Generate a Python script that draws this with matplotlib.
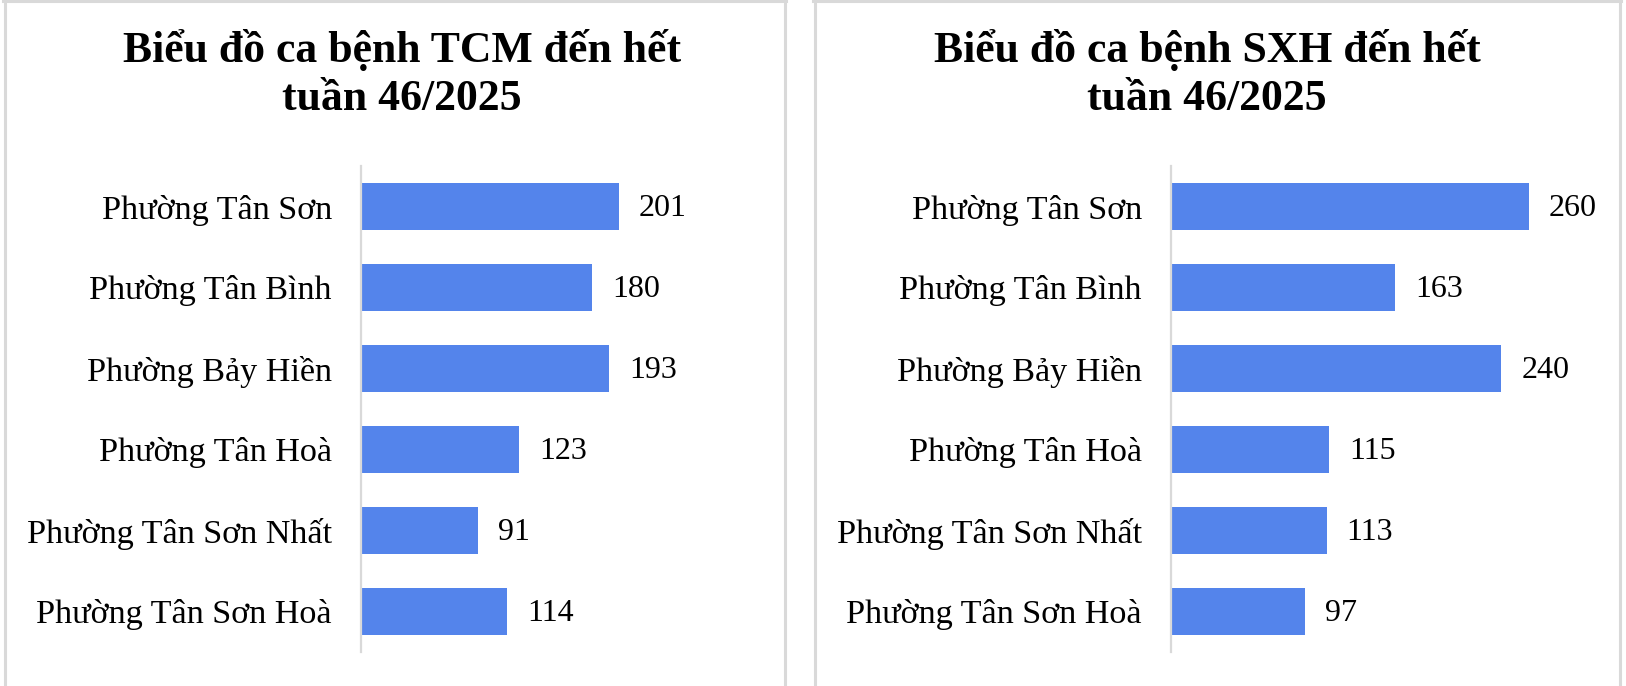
import matplotlib.pyplot as plt
from matplotlib.lines import Line2D

wards = ['Phường Tân Sơn', 'Phường Tân Bình', 'Phường Bảy Hiền',
         'Phường Tân Hoà', 'Phường Tân Sơn Nhất', 'Phường Tân Sơn Hoà']
tcm_cases = [201, 180, 193, 123, 91, 114]
sxh_cases = [260, 163, 240, 115, 113, 97]
titles = ['Biểu đồ ca bệnh TCM đến hết\ntuần 46/2025',
          'Biểu đồ ca bệnh SXH đến hết\ntuần 46/2025']

W, H = 1626, 686
bar_color = '#5484EB'
grey = '#D9D9D9'
plt.rcParams['font.family'] = ['Liberation Serif', 'DejaVu Serif']

fig = plt.figure(figsize=(W / 100, H / 100), dpi=100)

# panel frames (pixel coords -> figure fraction)
def vline(x, y0, y1):
    fig.add_artist(Line2D([x / W, x / W], [1 - y0 / H, 1 - y1 / H],
                          color=grey, lw=2.2, transform=fig.transFigure))

def hline(x0, x1, y):
    fig.add_artist(Line2D([x0 / W, x1 / W], [1 - y / H, 1 - y / H],
                          color=grey, lw=2.2, transform=fig.transFigure))

vline(4.5, 0, H); vline(784.5, 0, H); hline(3, 786, 1.2)
vline(814.5, 0, H); vline(1619.5, 0, H); hline(813, 1621, 1.2)

# axes: left x pixel, px per unit, title centre
specs = [(361, 1.284, tcm_cases, 402), (1171, 1.377, sxh_cases, 1207)]
y_top, y_bot = 166, 652
xmax = 300

for (ax_x, ppu, vals, tcx), title in zip(specs, titles):
    ax = fig.add_axes([ax_x / W, 1 - y_bot / H, xmax * ppu / W, (y_bot - y_top) / H])
    pos = list(range(len(wards)))
    ax.barh(pos, vals, height=0.57, color=bar_color)
    ax.set_ylim(len(wards) - 0.5, -0.5)
    ax.set_xlim(0, xmax)
    ax.set_yticks(pos)
    ax.set_yticklabels(wards, fontsize=24.6)
    ax.tick_params(axis='y', length=0, pad=21)
    ax.set_xticks([])
    for s in ['top', 'right', 'bottom']:
        ax.spines[s].set_visible(False)
    ax.spines['left'].set_color(grey)
    ax.spines['left'].set_linewidth(1.6)
    for p, v in zip(pos, vals):
        ax.text(v + 20 / ppu, p + 0.03, str(v), va='center', ha='left', fontsize=23)
    line1, line2 = title.split('\n')
    fig.text(tcx / W, 1 - 62 / H, line1, ha='center', va='baseline',
             fontsize=31.5, fontweight='bold')
    fig.text(tcx / W, 1 - 110 / H, line2, ha='center', va='baseline',
             fontsize=31.5, fontweight='bold')

fig.savefig('out.png', dpi=100)
